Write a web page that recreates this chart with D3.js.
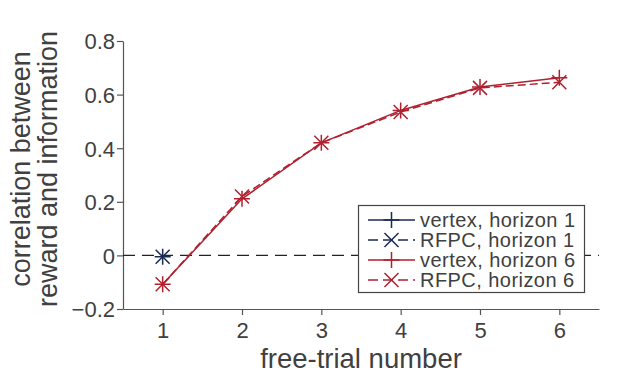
<!DOCTYPE html>
<html><head><meta charset="utf-8">
<script src="https://cdn.jsdelivr.net/npm/d3@7"></script>
<style>body{margin:0;background:#fff}svg{display:block}text{font-family:"Liberation Sans",Arial,sans-serif;fill:#404040}</style>
</head><body>
<script>
const trials = [1, 2, 3, 4, 5, 6];
const vertexH1 = [-0.005];
const rfpcH1 = [-0.005];
const vertexH6 = [-0.108, 0.211, 0.42, 0.541, 0.628, 0.663];
const rfpcH6 = [-0.108, 0.22, 0.42, 0.535, 0.625, 0.646];
const yTicks = [-0.2, 0, 0.2, 0.4, 0.6, 0.8];
const legendLabels = ["vertex, horizon 1", "RFPC, horizon 1", "vertex, horizon 6", "RFPC, horizon 6"];

const W = 617, H = 385;
const navy = "#1b2a55", red = "#b0202e", axisC = "#555";
const svg = d3.select("body").append("svg").attr("width", W).attr("height", H);
const x = d3.scaleLinear().domain([0.5, 6.5]).range([123, 599]);
const y = d3.scaleLinear().domain([-0.2, 0.8]).range([309, 41]);

// axes
const gx = svg.append("g").attr("transform", `translate(0,${y(-0.2)})`)
  .call(d3.axisBottom(x).tickValues(trials).tickSize(6).tickSizeOuter(0).tickFormat(d3.format("d")));
const gy = svg.append("g").attr("transform", `translate(${x(0.5)},0)`)
  .call(d3.axisLeft(y).tickValues(yTicks).tickSize(6).tickSizeOuter(0).tickFormat(d => d === 0 ? "0" : d3.format(".1f")(d)));
[gx, gy].forEach(g => {
  g.select(".domain").attr("stroke", axisC).attr("stroke-width", 1.2);
  g.selectAll(".tick line").attr("stroke", axisC).attr("stroke-width", 1.2);
  g.selectAll(".tick text").attr("fill", "#404040").style("font-size", "22px").style("font-family", '"Liberation Sans", Arial, sans-serif');
});
gx.selectAll(".tick text").attr("dy", "0.71em").attr("y", 13);
gy.selectAll(".tick text").attr("x", -8).attr("dy", "0.36em");

// zero line
svg.append("line").attr("x1", x(0.5)).attr("x2", x(6.5)).attr("y1", y(0)).attr("y2", y(0))
  .attr("stroke", "#222").attr("stroke-width", 1.3).attr("stroke-dasharray", "12,7");

// labels
svg.append("text").attr("x", 361).attr("y", 368).attr("text-anchor", "middle")
  .style("font-size", "27.5px").text("free-trial number");
const yl = svg.append("text").attr("transform", "translate(30,169) rotate(-90)").attr("text-anchor", "middle").style("font-size", "27px");
yl.append("tspan").attr("x", 0).attr("y", 0).text("correlation between");
yl.append("tspan").attr("x", 0).attr("y", 27).text("reward and information");

function plus(g, cx, cy, r, c) {
  g.append("path").attr("d", `M${cx - r},${cy}H${cx + r}M${cx},${cy - r}V${cy + r}`).attr("stroke", c).attr("stroke-width", 1.5).attr("fill", "none");
}
function cross(g, cx, cy, r, c) {
  g.append("path").attr("d", `M${cx - r},${cy - r}L${cx + r},${cy + r}M${cx - r},${cy + r}L${cx + r},${cy - r}`).attr("stroke", c).attr("stroke-width", 1.5).attr("fill", "none");
}
const line = d3.line().x(d => x(d[0])).y(d => y(d[1]));
const series = [
  {vals: vertexH1, c: navy, dash: null, m: plus},
  {vals: rfpcH1, c: navy, dash: "8,4", m: cross},
  {vals: vertexH6, c: red, dash: null, m: plus},
  {vals: rfpcH6, c: red, dash: "8,4", m: cross}
];
const plot = svg.append("g");
series.forEach(s => {
  const pts = s.vals.map((v, i) => [trials[i], v]);
  plot.append("path").attr("d", line(pts)).attr("fill", "none").attr("stroke", s.c).attr("stroke-width", 1.5)
    .attr("stroke-dasharray", s.dash);
  pts.forEach(p => s.m(plot, x(p[0]), y(p[1]), s.m === plus ? 8 : 7, s.c));
});

// legend
const lg = svg.append("g");
lg.append("rect").attr("x", 358.5).attr("y", 205.5).attr("width", 226).attr("height", 87)
  .attr("fill", "#fff").attr("stroke", "#444").attr("stroke-width", 1.2);
const rowY = [220, 240, 260, 280];
series.forEach((s, i) => {
  const yy = rowY[i];
  lg.append("line").attr("x1", 368).attr("x2", 415).attr("y1", yy).attr("y2", yy).attr("stroke", s.c).attr("stroke-width", 1.5)
    .attr("stroke-dasharray", s.dash ? "10,5" : null);
  s.m(lg, 391.5, yy, s.m === plus ? 8 : 7, s.c);
  lg.append("text").attr("x", 420).attr("y", yy + 7).style("font-size", "20px").style("letter-spacing", "0.45px").text(legendLabels[i]);
});
</script>
</body></html>
